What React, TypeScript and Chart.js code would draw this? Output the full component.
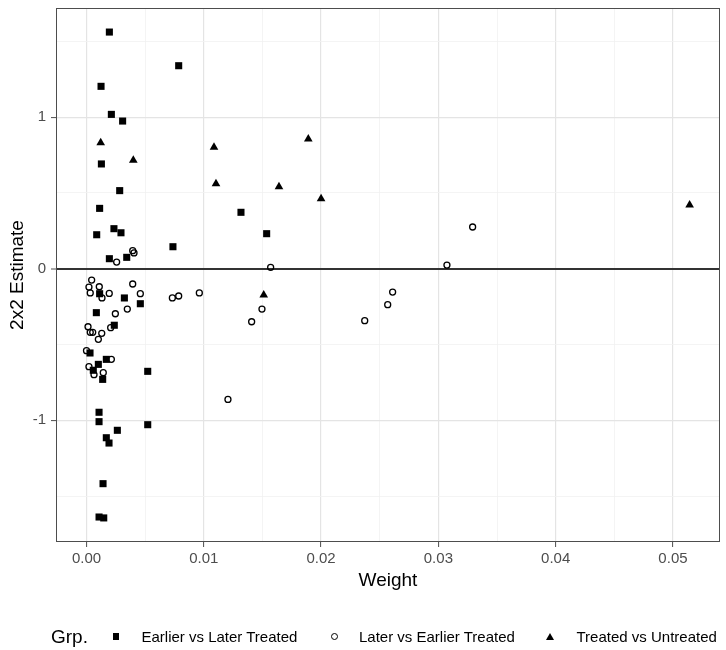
import React, { useEffect, useRef } from "react";
import { Chart, registerables } from "chart.js";

Chart.register(...registerables);

const FONT = '"Liberation Sans", Arial, Helvetica, sans-serif';

const GROUPS = ["Earlier vs Later Treated", "Later vs Earlier Treated", "Treated vs Untreated"];
const LEGEND_TITLE = "Grp.";
const X_TITLE = "Weight";
const Y_TITLE = "2x2 Estimate";

// Earlier vs Later Treated (filled squares)
const ELT_WEIGHT = [
  0.00195, 0.00786, 0.00124, 0.00212, 0.00308, 0.00127, 0.00283, 0.00112, 0.01317, 0.00234,
  0.00294, 0.00087, 0.00737, 0.00195, 0.00343, 0.01536, 0.00112, 0.00323, 0.00459, 0.00084,
  0.00237, 0.0003, 0.00101, 0.00169, 0.00058, 0.00138, 0.00522, 0.00107, 0.00107, 0.00522,
  0.00263, 0.00169, 0.00192, 0.00141, 0.00107, 0.00147,
];
const ELT_ESTIMATE = [
  1.561, 1.339, 1.203, 1.018, 0.974, 0.691, 0.515, 0.398, 0.372, 0.264,
  0.237, 0.224, 0.145, 0.066, 0.075, 0.231, -0.165, -0.193, -0.231, -0.29,
  -0.373, -0.556, -0.631, -0.598, -0.67, -0.73, -0.677, -0.947, -1.009, -1.029,
  -1.066, -1.115, -1.15, -1.418, -1.638, -1.644,
];

// Later vs Earlier Treated (open circles)
const LET_WEIGHT = [
  0.00257, 0.00394, 0.00405, 0.0157, 0.03073, 0.03292, 0.00044, 0.00021, 0.00032, 0.00109,
  0.00132, 0.00194, 0.00394, 0.00459, 0.00732, 0.00786, 0.00962, 0.00246, 0.00348, 0.01408,
  0.01496, 0.01206, 0.02372, 0.02568, 0.0261, 0.00013, 0.00032, 0.00053, 0.0013, 0.00101,
  0.00206, 0.0, 0.00212, 0.00021, 0.00064, 0.00143,
];
const LET_ESTIMATE = [
  0.044, 0.119, 0.104, 0.009, 0.024, 0.275, -0.075, -0.121, -0.16, -0.119,
  -0.193, -0.163, -0.101, -0.165, -0.193, -0.18, -0.16, -0.297, -0.266, -0.35,
  -0.266, -0.862, -0.343, -0.237, -0.154, -0.383, -0.42, -0.42, -0.426, -0.466,
  -0.389, -0.541, -0.598, -0.646, -0.699, -0.686,
];

// Treated vs Untreated (filled triangles)
const TVU_WEIGHT = [0.00121, 0.00399, 0.01087, 0.01104, 0.01891, 0.01641, 0.02, 0.05142, 0.01511];
const TVU_ESTIMATE = [0.831, 0.715, 0.801, 0.561, 0.856, 0.541, 0.462, 0.42, -0.173];

const X_GRID = [0, 0.005, 0.01, 0.015, 0.02, 0.025, 0.03, 0.035, 0.04, 0.045, 0.05];
const X_MAJOR = [0, 0.01, 0.02, 0.03, 0.04, 0.05];
const X_LABELS = ["0.00", "0.01", "0.02", "0.03", "0.04", "0.05"];
const Y_GRID = [-1.5, -1, -0.5, 0, 0.5, 1, 1.5];
const Y_MAJOR = [-1, 0, 1];
const Y_LABELS = ["-1", "0", "1"];

const X_MIN = -0.0026;
const X_MAX = 0.05401;
const Y_MIN = -1.8028;
const Y_MAX = 1.7197;

const near = (a: number, b: number) => Math.abs(a - b) < 1e-9;
const majorIndex = (list: number[], v: number) => list.findIndex((m) => near(m, v));

const toPoints = (xs: number[], ys: number[]) => xs.map((x, i) => ({ x, y: ys[i] }));

const framePlugin = {
  id: "panelFrame",
  afterDraw(chart: any) {
    const { ctx, chartArea } = chart;
    ctx.save();
    ctx.strokeStyle = "#4d4d4d";
    ctx.lineWidth = 1;
    ctx.strokeRect(
      Math.round(chartArea.left) + 0.5,
      Math.round(chartArea.top) + 0.5,
      Math.round(chartArea.right - chartArea.left) - 1,
      Math.round(chartArea.bottom - chartArea.top) - 1
    );
    ctx.restore();
  },
};

export default function App() {
  const canvasRef = useRef<HTMLCanvasElement | null>(null);

  useEffect(() => {
    if (!canvasRef.current) return;
    const chart = new Chart(canvasRef.current, {
      type: "scatter",
      data: {
        datasets: [
          {
            label: GROUPS[0],
            data: toPoints(ELT_WEIGHT, ELT_ESTIMATE),
            pointStyle: "rect",
            pointRadius: 5,
            pointHoverRadius: 5,
            borderWidth: 0,
            backgroundColor: "#000000",
            borderColor: "#000000",
          },
          {
            label: GROUPS[1],
            data: toPoints(LET_WEIGHT, LET_ESTIMATE),
            pointStyle: "circle",
            pointRadius: 3,
            pointHoverRadius: 3,
            borderWidth: 1.3,
            backgroundColor: "rgba(0,0,0,0)",
            borderColor: "#000000",
          },
          {
            label: GROUPS[2],
            data: toPoints(TVU_WEIGHT, TVU_ESTIMATE),
            pointStyle: "triangle",
            pointRadius: 5,
            pointHoverRadius: 5,
            borderWidth: 0,
            backgroundColor: "#000000",
            borderColor: "#000000",
          },
        ],
      },
      options: {
        responsive: false,
        animation: false,
        events: [],
        layout: { padding: { left: 0, top: 8, right: 6, bottom: 0 } },
        plugins: {
          legend: { display: false },
          tooltip: { enabled: false },
        },
        scales: {
          x: {
            type: "linear",
            min: X_MIN,
            max: X_MAX,
            afterBuildTicks: (scale: any) => {
              scale.ticks = X_GRID.map((v) => ({ value: v }));
            },
            afterFit: (scale: any) => {
              scale.height = 108;
              scale.paddingLeft = 0;
              scale.paddingRight = 0;
            },
            border: { display: false },
            grid: {
              drawTicks: true,
              tickLength: 5,
              color: (ctx: any) => (majorIndex(X_MAJOR, ctx.tick?.value) >= 0 ? "#e4e4e4" : "#f1f1f1"),
              lineWidth: (ctx: any) => (majorIndex(X_MAJOR, ctx.tick?.value) >= 0 ? 1.2 : 0.8),
              tickColor: (ctx: any) => (majorIndex(X_MAJOR, ctx.tick?.value) >= 0 ? "#4d4d4d" : "rgba(0,0,0,0)"),
              tickWidth: 1,
            },
            ticks: {
              padding: 3,
              maxRotation: 0,
              autoSkip: false,
              color: "#4d4d4d",
              font: { family: FONT, size: 15 },
              callback: (value: any) => {
                const i = majorIndex(X_MAJOR, Number(value));
                return i >= 0 ? X_LABELS[i] : "";
              },
            },
            title: {
              display: true,
              text: X_TITLE,
              color: "#000000",
              font: { family: FONT, size: 19 },
              padding: { top: 0, bottom: 58 },
            },
          },
          y: {
            type: "linear",
            min: Y_MIN,
            max: Y_MAX,
            afterBuildTicks: (scale: any) => {
              scale.ticks = Y_GRID.map((v) => ({ value: v }));
            },
            afterFit: (scale: any) => {
              scale.width = 56;
              scale.paddingTop = 0;
              scale.paddingBottom = 0;
            },
            border: { display: false },
            grid: {
              drawTicks: true,
              tickLength: 5,
              color: (ctx: any) => {
                const v = ctx.tick?.value;
                if (near(v, 0)) return "#333333";
                return majorIndex(Y_MAJOR, v) >= 0 ? "#e4e4e4" : "#f1f1f1";
              },
              lineWidth: (ctx: any) => {
                const v = ctx.tick?.value;
                if (near(v, 0)) return 2;
                return majorIndex(Y_MAJOR, v) >= 0 ? 1.2 : 0.8;
              },
              tickColor: (ctx: any) => (majorIndex(Y_MAJOR, ctx.tick?.value) >= 0 ? "#4d4d4d" : "rgba(0,0,0,0)"),
              tickWidth: 1,
            },
            ticks: {
              padding: 5,
              autoSkip: false,
              color: "#4d4d4d",
              font: { family: FONT, size: 15 },
              callback: (value: any) => {
                const i = majorIndex(Y_MAJOR, Number(value));
                return i >= 0 ? Y_LABELS[i] : "";
              },
            },
            title: {
              display: true,
              text: Y_TITLE,
              color: "#000000",
              font: { family: FONT, size: 19 },
              padding: { top: 6, bottom: 0 },
            },
          },
        },
      },
      plugins: [framePlugin],
    } as any);
    return () => chart.destroy();
  }, []);

  const itemStyle: React.CSSProperties = {
    position: "absolute",
    top: 0,
    lineHeight: "20px",
    fontSize: 15,
    color: "#000000",
    whiteSpace: "nowrap",
  };

  return (
    <div style={{ position: "absolute", left: 0, top: 0, width: 726, height: 650, background: "#ffffff", fontFamily: FONT }}>
      <canvas ref={canvasRef} width={726} height={650} style={{ display: "block", width: 726, height: 650 }} />
      <div style={{ position: "absolute", left: 0, top: 627, width: 726, height: 20 }}>
        <span style={{ ...itemStyle, left: 51, fontSize: 19 }}>{LEGEND_TITLE}</span>
        <div style={{ position: "absolute", left: 112.5, top: 6, width: 6.5, height: 6.5, background: "#000" }} />
        <span style={{ ...itemStyle, left: 141.5 }}>{GROUPS[0]}</span>
        <div
          style={{
            position: "absolute",
            left: 330.8,
            top: 5.8,
            width: 7,
            height: 7,
            borderRadius: "50%",
            border: "1.3px solid #000",
            boxSizing: "border-box",
          }}
        />
        <span style={{ ...itemStyle, left: 359 }}>{GROUPS[1]}</span>
        <div
          style={{
            position: "absolute",
            left: 545.5,
            top: 5.5,
            width: 0,
            height: 0,
            borderLeft: "4.5px solid transparent",
            borderRight: "4.5px solid transparent",
            borderBottom: "7.5px solid #000",
          }}
        />
        <span style={{ ...itemStyle, left: 576.5 }}>{GROUPS[2]}</span>
      </div>
    </div>
  );
}
